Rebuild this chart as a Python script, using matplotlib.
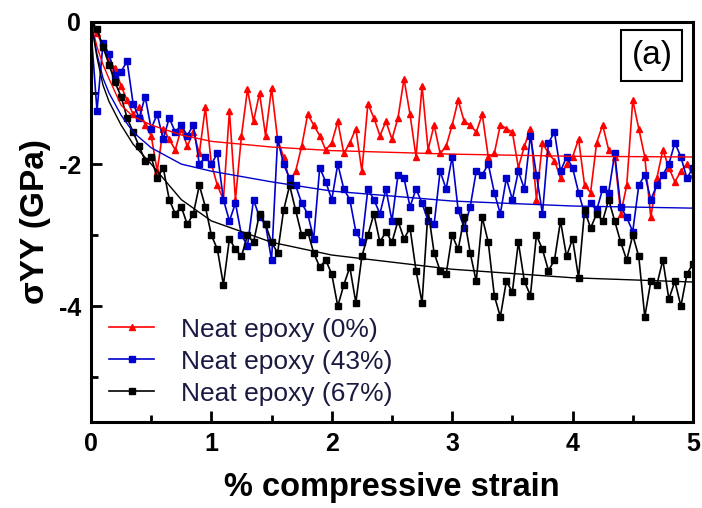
import numpy as np
import matplotlib
matplotlib.use("Agg")
import matplotlib.pyplot as plt
from matplotlib.ticker import MultipleLocator

plt.rcParams['font.family'] = ['Liberation Sans', 'DejaVu Sans']
plt.rcParams['axes.unicode_minus'] = False

strain = np.round(np.arange(0, 5.001, 0.05), 2)

red_0 = [0.0, -0.15, -0.35, -0.55, -0.65, -0.9, -1.1, -1.3, -1.2, -1.45,
         -1.6, -2.1, -1.5, -1.65, -1.8, -1.5, -1.75, -1.55, -1.85, -1.2,
         -2.0, -2.3, -2.5, -1.25, -2.5, -1.6, -0.95, -1.4, -1.0, -1.6,
         -0.93, -1.65, -1.9, -2.25, -2.1, -1.75, -1.3, -1.45, -1.6, -1.8,
         -1.7, -1.4, -1.85, -1.7, -1.5, -2.1, -1.15, -1.35, -1.6, -1.4,
         -1.65, -1.35, -0.8, -1.3, -1.9, -0.9, -1.8, -1.45, -1.85, -1.75,
         -1.45, -1.1, -1.4, -1.45, -1.55, -1.3, -1.9, -1.85, -1.45, -1.5,
         -1.55, -2.05, -1.75, -1.5, -2.5, -1.7, -1.85, -1.95, -2.2, -2.0,
         -1.9, -1.65, -2.3, -2.4, -1.7, -1.45, -1.8, -1.9, -2.7, -2.3,
         -1.1, -1.5, -1.9, -2.75, -2.2, -1.8, -2.05, -2.25, -2.1, -2.0,
         -2.15]

blue_43 = [-0.1, -1.25, -0.3, -0.45, -0.75, -0.7, -0.55, -1.15, -1.35, -1.05,
           -1.5, -1.3, -1.65, -1.35, -1.55, -1.45, -1.6, -1.45, -2.0, -1.9,
           -2.0, -1.85, -2.5, -2.8, -2.55, -3.0, -3.15, -2.5, -2.75, -2.85,
           -3.35, -1.65, -2.0, -2.2, -2.3, -2.55, -2.7, -3.05, -2.05, -2.25,
           -2.5, -2.0, -2.35, -2.5, -2.95, -3.1, -2.35, -2.5, -2.7, -2.35,
           -2.8, -2.15, -2.2, -2.6, -2.35, -2.55, -2.8, -2.85, -2.1, -2.35,
           -1.9, -2.65, -2.9, -2.6, -2.1, -2.15, -2.0, -2.4, -2.7, -2.2,
           -2.5, -2.1, -2.35, -1.6, -2.15, -2.7, -1.7, -1.55, -2.1, -1.9,
           -2.05, -2.4, -2.7, -2.55, -2.65, -2.35, -2.4, -1.85, -2.6, -2.75,
           -2.95, -2.3, -2.15, -2.5, -2.3, -2.15, -2.0, -1.7, -1.9, -2.2,
           -2.05]

black_67 = [0.0, -0.1, -0.35, -0.6, -0.85, -1.05, -1.35, -1.55, -1.75, -1.95,
            -1.9, -2.2, -2.05, -2.5, -2.7, -2.6, -2.85, -2.7, -2.3, -2.6,
            -3.0, -3.2, -3.7, -3.05, -3.2, -3.3, -3.0, -3.1, -2.7, -2.85,
            -3.1, -3.25, -2.65, -2.3, -2.65, -3.0, -2.95, -3.25, -3.45, -3.35,
            -3.55, -4.0, -3.7, -3.45, -3.95, -3.3, -3.0, -2.7, -3.1, -2.95,
            -3.1, -2.8, -3.05, -2.9, -3.5, -3.95, -2.65, -3.25, -3.5, -3.55,
            -3.0, -3.2, -2.75, -3.25, -3.65, -2.75, -3.1, -3.85, -4.15, -3.65,
            -3.8, -3.1, -3.65, -3.85, -3.0, -3.2, -3.5, -3.35, -2.8, -3.3,
            -3.05, -3.6, -2.65, -2.9, -2.7, -2.8, -2.5, -2.8, -3.1, -3.35,
            -3.0, -3.3, -4.15, -3.65, -3.7, -3.35, -3.9, -3.65, -4.0, -3.55,
            -3.4]

fit_x = [0, 0.05, 0.1, 0.15, 0.25, 0.35, 0.5, 0.75, 1, 1.5, 2, 3, 4, 5]
red_fit = [0, -0.35, -0.6, -0.8, -1.17, -1.33, -1.45, -1.59, -1.68, -1.76, -1.81, -1.86, -1.89, -1.9]
blue_fit = [0, -0.45, -0.79, -1.0, -1.31, -1.55, -1.77, -2.0, -2.1, -2.25, -2.38, -2.52, -2.59, -2.62]
black_fit = [0, -0.5, -0.89, -1.12, -1.45, -1.72, -2.0, -2.5, -2.8, -3.1, -3.28, -3.48, -3.6, -3.66]

labels = ["Neat epoxy (0%)", "Neat epoxy (43%)", "Neat epoxy (67%)"]
colors = ["#ff0000", "#0000cc", "#000000"]
markers = ["^", "s", "s"]

fig = plt.figure(figsize=(7.02, 5.08), dpi=100)
ax = fig.add_axes([0.1296, 0.1693, 0.8575, 0.7874])

for ys, c, m, lab in zip([red_0, blue_43, black_67], colors, markers, labels):
    ax.plot(strain, ys, color=c, marker=m, markersize=4.5, linewidth=1.2, label=lab)
for ys, c in zip([red_fit, blue_fit, black_fit], colors):
    ax.plot(fit_x, ys, color=c, linewidth=1.0)

ax.set_xlim(0, 5)
ax.set_ylim(-5.63, 0)
ax.xaxis.set_major_locator(MultipleLocator(1))
ax.xaxis.set_minor_locator(MultipleLocator(0.5))
ax.yaxis.set_major_locator(MultipleLocator(2))
ax.yaxis.set_minor_locator(MultipleLocator(1))
ax.tick_params(which='both', direction='in', width=2, top=False, right=False)
ax.tick_params(which='major', length=8, labelsize=18, pad=7)
ax.tick_params(which='minor', length=5)
for lbl in ax.get_xticklabels() + ax.get_yticklabels():
    lbl.set_fontweight('bold')
for sp in ax.spines.values():
    sp.set_linewidth(2.2)

ax.set_xlabel("% compressive strain", fontsize=23.5, fontweight='bold', labelpad=12)
ax.set_ylabel("σYY (GPa)", fontsize=24, fontweight='bold', labelpad=6)

leg = ax.legend(loc='lower left', bbox_to_anchor=(0.0, -0.005), frameon=False,
                fontsize=19, handlelength=1.7, handletextpad=1.0, labelspacing=0.3,
                borderaxespad=0.3)
for t in leg.get_texts():
    t.set_color('#1a1a40')

ax.text(0.966, 0.955, "(a)", transform=ax.transAxes, fontsize=24, ha='right', va='top',
        bbox=dict(boxstyle='square,pad=0.3', facecolor='white', edgecolor='black', linewidth=1.5))

fig.savefig("out.png", dpi=100)
